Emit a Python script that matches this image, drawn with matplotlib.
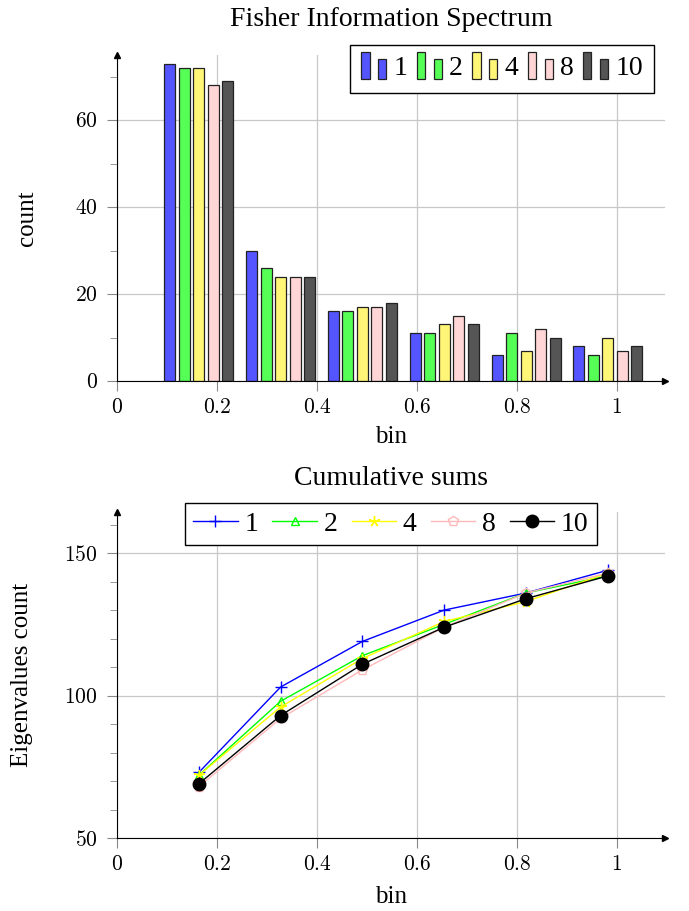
import numpy as np
import matplotlib
matplotlib.use("Agg")
import matplotlib.pyplot as plt
from matplotlib.patches import Rectangle
from matplotlib.ticker import MultipleLocator, FuncFormatter

plt.rcParams['font.family'] = ['Liberation Serif', 'DejaVu Serif']
plt.rcParams['mathtext.fontset'] = 'cm'

# data
bins = [0.1636, 0.3273, 0.4909, 0.6545, 0.8182, 0.9818]
series = ["1", "2", "4", "8", "10"]
count_1 = [73, 30, 16, 11, 6, 8]
count_2 = [72, 26, 16, 11, 11, 6]
count_4 = [72, 24, 17, 13, 7, 10]
count_8 = [68, 24, 17, 15, 12, 7]
count_10 = [69, 24, 18, 13, 10, 8]
cum_1 = [73, 103, 119, 130, 136, 144]
cum_2 = [72, 98, 114, 125, 136, 142]
cum_4 = [72, 96, 113, 126, 133, 143]
cum_8 = [68, 92, 109, 124, 136, 143]
cum_10 = [69, 93, 111, 124, 134, 142]

counts = [count_1, count_2, count_4, count_8, count_10]
cums = [cum_1, cum_2, cum_4, cum_8, cum_10]

bar_colors = ['#5555ff', '#55ff55', '#fff577', '#ffd5d5', '#555555']
line_colors = ['#0000ff', '#00ff00', '#ffff00', '#ffb8b8', '#000000']
markers = ['+', '^', (5, 2, 0), 'p', 'o']
msizes = [8, 6, 8, 7, 9]


class TwoBars:
    def __init__(self, color):
        self.color = color

    def legend_artist(self, legend, orig_handle, fontsize, handlebox):
        x0, y0 = handlebox.xdescent, handlebox.ydescent
        w, h = handlebox.width, handlebox.height
        y0 = -y0 - 0.2 * h
        r1 = Rectangle((x0, y0), 0.33 * w, 1.4 * h, fc=self.color, ec='#222222',
                       lw=0.9, transform=handlebox.get_transform())
        r2 = Rectangle((x0 + 0.67 * w, y0), 0.33 * w, 1.05 * h, fc=self.color, ec='#222222',
                       lw=0.9, transform=handlebox.get_transform())
        handlebox.add_artist(r1)
        handlebox.add_artist(r2)
        return r1


def style_axis(ax, ymin, ymax, ymajor, yminor):
    ax.set_xlim(0, 1.096)
    ax.set_ylim(ymin, ymax)
    ax.spines['top'].set_visible(False)
    ax.spines['right'].set_visible(False)
    ax.spines['left'].set_color('black')
    ax.spines['bottom'].set_color('black')
    ax.plot(1, 0, '>k', ms=5, transform=ax.transAxes, clip_on=False)
    ax.plot(0, 1, '^k', ms=5, transform=ax.transAxes, clip_on=False)
    ax.xaxis.set_major_locator(MultipleLocator(0.2))
    ax.yaxis.set_major_locator(MultipleLocator(ymajor))
    ax.yaxis.set_minor_locator(MultipleLocator(yminor))
    ax.xaxis.set_major_formatter(FuncFormatter(lambda v, p: '$%g$' % round(v, 2)))
    ax.yaxis.set_major_formatter(FuncFormatter(lambda v, p: '$%g$' % v))
    ax.tick_params(which='major', direction='out', length=7, color='#888888',
                   labelsize=15.5)
    ax.tick_params(axis='y', which='major', pad=7)
    ax.tick_params(axis='x', which='major', pad=6)
    ax.tick_params(which='minor', direction='out', length=5, color='#888888')
    ax.grid(True, which='major', color='#c8c8c8', lw=0.9)
    ax.set_axisbelow(True)


fig = plt.figure(figsize=(6.89, 9.11), dpi=100)
ax1 = fig.add_axes([0.1698, 0.5818, 0.7952, 0.3578])
ax2 = fig.add_axes([0.1698, 0.0801, 0.7952, 0.3578])

# bar chart
offsets = [-2, -1, 0, 1, 2]
bars = []
for i in range(5):
    x = np.array(bins) + offsets[i] * 0.029
    b = ax1.bar(x, counts[i], width=0.022, color=bar_colors[i], edgecolor='#222222',
                lw=0.9, label=series[i])
    bars.append(b)
style_axis(ax1, 0, 75, 20, 10)
ax1.set_title("Fisher Information Spectrum", fontsize=20, y=1.11, pad=0, va='center')
ax1.set_xlabel("bin", fontsize=18, va='center')
ax1.xaxis.set_label_coords(0.5, -0.172)
ax1.set_ylabel("count", fontsize=18, va='center')
ax1.yaxis.set_label_coords(-0.164, 0.5)
ax1.legend(bars, series, ncol=5, loc='upper right', bbox_to_anchor=(0.98, 1.031),
           fontsize=20, handlelength=0.9, handletextpad=0.25, columnspacing=0.35,
           fancybox=False, framealpha=1, edgecolor='black', borderpad=0.4,
           borderaxespad=0,
           handler_map={bars[i]: TwoBars(bar_colors[i]) for i in range(5)})

# cumulative lines
for i in range(5):
    mfc = 'none' if i in (1, 3) else line_colors[i]
    ax2.plot(bins, cums[i], color=line_colors[i], marker=markers[i], ms=msizes[i],
             mfc=mfc, mec=line_colors[i], lw=1, label=series[i])
style_axis(ax2, 50, 164.4, 50, 10)
ax2.set_title("Cumulative sums", fontsize=20, y=1.104, pad=0, va='center')
ax2.set_xlabel("bin", fontsize=18, va='center')
ax2.xaxis.set_label_coords(0.5, -0.181)
ax2.set_ylabel("Eigenvalues count", fontsize=18, va='center')
ax2.yaxis.set_label_coords(-0.173, 0.5)
ax2.legend(ncol=5, loc='upper center', bbox_to_anchor=(0.5, 1.028), fontsize=20,
           handlelength=1.6, handletextpad=0.25, columnspacing=0.5,
           fancybox=False, framealpha=1, edgecolor='black', borderpad=0.3,
           borderaxespad=0)

fig.savefig("out.png", dpi=100)
